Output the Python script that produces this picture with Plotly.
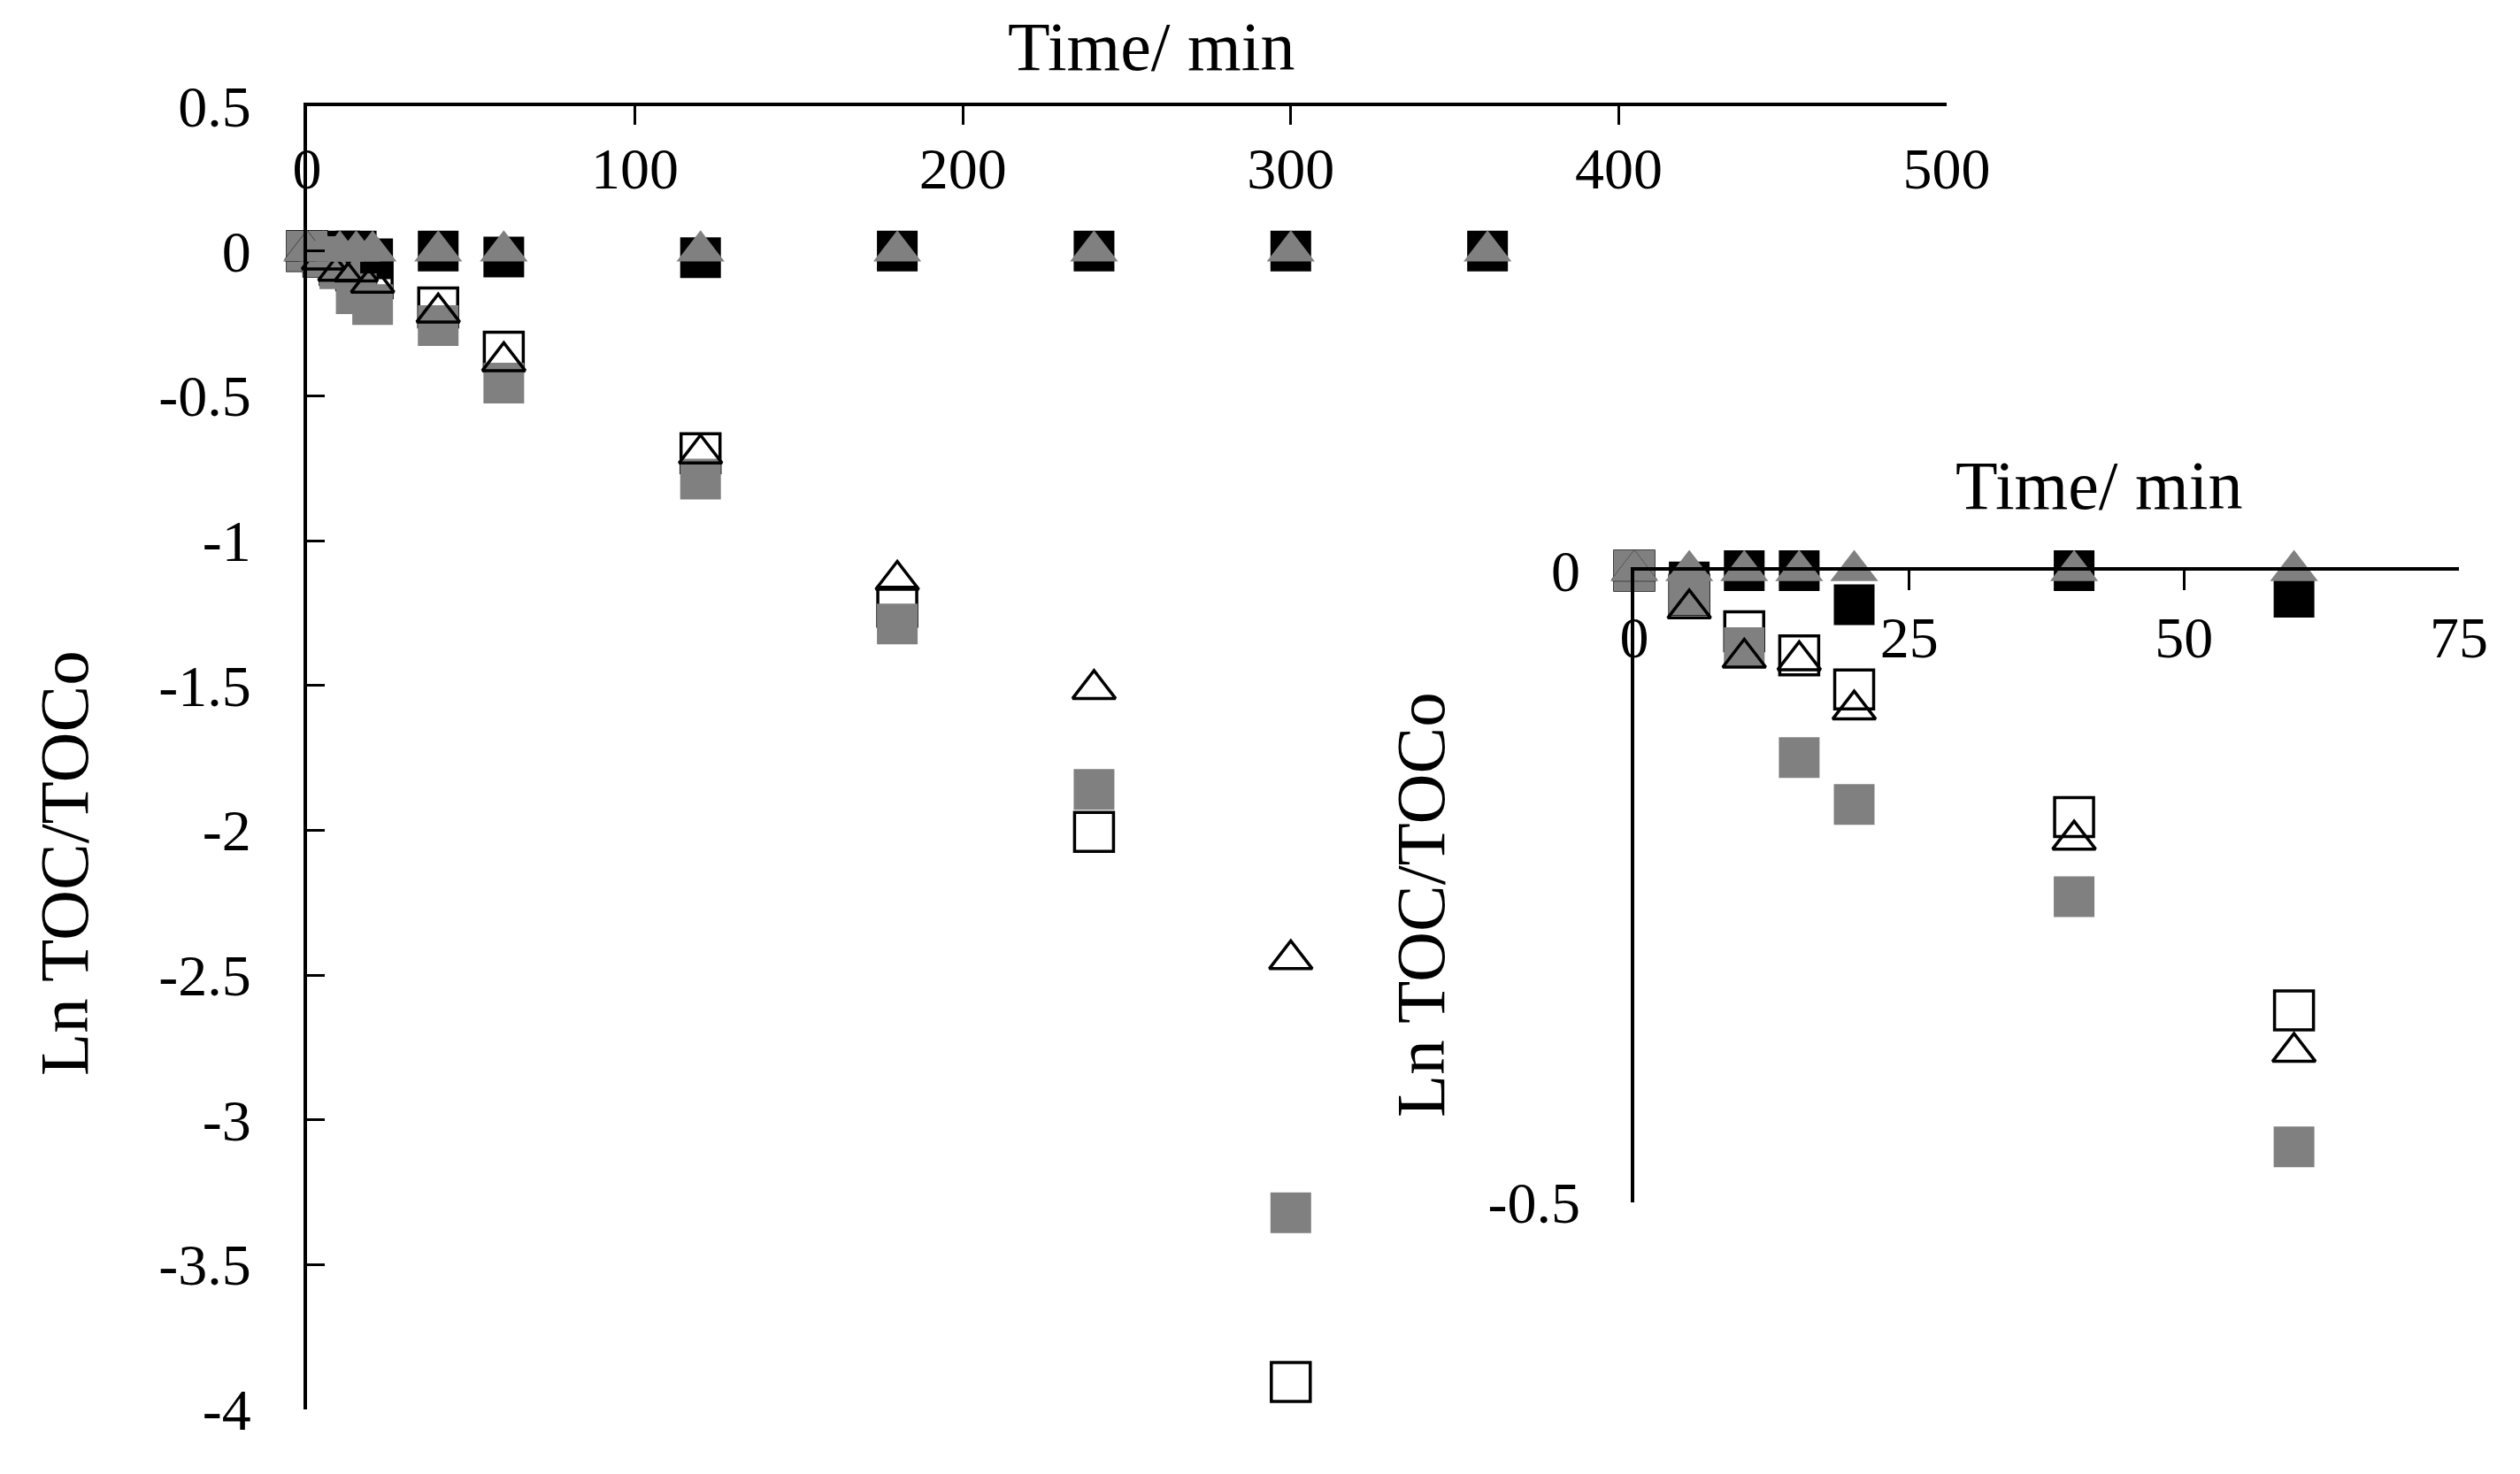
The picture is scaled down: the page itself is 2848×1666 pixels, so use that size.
import plotly.graph_objects as go

# ---- data ----
time_min = [0, 5, 10, 15, 20, 40, 60, 120, 180, 240, 300, 360]
black_square = [0, -0.009, 0, 0, -0.027, 0, -0.021, -0.023, 0, 0, 0, 0]
gray_triangle = [0, 0, 0, 0, 0, 0, 0, 0, 0, 0, 0, 0]
gray_square = [0, -0.019, -0.061, -0.148, -0.185, -0.258, -0.456, -0.788, -1.288, -1.859, -3.321]
open_square = [0, -0.019, -0.048, -0.067, -0.094, -0.195, -0.348, -0.698, -1.228, -2.006, -3.905]
open_triangle = [0, -0.030, -0.069, -0.071, -0.110, -0.213, -0.381, -0.700, -1.136, -1.513, -2.446]

main_xticks = [0, 100, 200, 300, 400, 500]
main_yticks = [0.5, 0, -0.5, -1, -1.5, -2, -2.5, -3, -3.5, -4]
main_yticklabels = ["0.5", "0", "-0.5", "-1", "-1.5", "-2", "-2.5", "-3", "-3.5", "-4"]
inset_xticks = [0, 25, 50, 75]
inset_yticks = [0, -0.5]
inset_yticklabels = ["0", "-0.5"]
inset_max_time = 60

W, H = 2848, 1666
OFF = 8  # page body margin
FONT = "Liberation Serif"
GRAY = "#808080"

styles = [
    (black_square, dict(symbol="square", size=46, color="black", line=dict(width=0))),
    (open_square, dict(symbol="square-open", size=44, color="black", line=dict(width=3.5, color="black"))),
    (gray_square, dict(symbol="square", size=46, color=GRAY, line=dict(width=0))),
    (open_triangle, dict(symbol="triangle-up-open", size=42, color="black", line=dict(width=3.5, color="black"))),
    (gray_triangle, dict(symbol="triangle-up", size=47, color=GRAY, line=dict(width=0))),
]

fig = go.Figure()
for vals, mk in styles:
    t = time_min[:len(vals)]
    fig.add_trace(go.Scatter(x=t, y=vals, mode="markers", marker=mk,
                             cliponaxis=False, showlegend=False, xaxis="x", yaxis="y"))
for vals, mk in styles:
    pairs = [(a, b) for a, b in zip(time_min, vals) if a <= inset_max_time]
    fig.add_trace(go.Scatter(x=[p[0] for p in pairs], y=[p[1] for p in pairs], mode="markers",
                             marker=mk, cliponaxis=False, showlegend=False, xaxis="x2", yaxis="y2"))

def px_x(p):
    return (p - OFF) / W

def px_y(p):
    return 1 - (p - OFF) / H

tickfont = dict(family=FONT, size=66, color="black")

fig.update_layout(
    width=W, height=H,
    margin=dict(l=0, r=0, t=0, b=0, autoexpand=False),
    paper_bgcolor="white", plot_bgcolor="rgba(0,0,0,0)",
    font=dict(family=FONT, color="black"),
    xaxis=dict(domain=[px_x(347), px_x(2200)], range=[0, 500], side="top", anchor="y",
               automargin=False,
               tickvals=main_xticks, ticks="inside", ticklen=21, tickwidth=3, tickcolor="black",
               ticklabelposition="inside", ticklabeloverflow="allow", ticklabelstandoff=36,
               showline=True, linewidth=4, linecolor="black", showgrid=False, zeroline=False,
               tickfont=tickfont),
    yaxis=dict(domain=[px_y(1593), px_y(120)], range=[-4, 0.5], anchor="x", side="left",
               automargin=False,
               tickvals=main_yticks, ticktext=main_yticklabels,
               ticks="inside", ticklen=20, tickwidth=3, tickcolor="black",
               ticklabelstandoff=46,
               showline=True, linewidth=4, linecolor="black", showgrid=False, zeroline=False,
               tickfont=tickfont),
    xaxis2=dict(domain=[px_x(1847), px_x(2779)], range=[0, 75], side="top", anchor="y2",
                automargin=False,
                tickvals=inset_xticks, ticks="inside", ticklen=22, tickwidth=3, tickcolor="black",
                ticklabelposition="inside", ticklabeloverflow="allow", ticklabelstandoff=40,
                showline=True, linewidth=3.5, linecolor="black", showgrid=False, zeroline=False,
                tickfont=tickfont),
    yaxis2=dict(domain=[px_y(1359), px_y(645)], range=[-0.5, 0], anchor="x2", side="left",
                automargin=False,
                tickvals=inset_yticks, ticktext=inset_yticklabels,
                ticks="inside", ticklen=22, tickwidth=3, tickcolor="black",
                ticklabelstandoff=44,
                showline=True, linewidth=3.5, linecolor="black", showgrid=False, zeroline=False,
                tickfont=tickfont),
    annotations=[
        dict(text="Time/ min", x=px_x(1301), y=1, xref="paper", yref="paper",
             showarrow=False, font=dict(family=FONT, size=78, color="black"),
             xanchor="center", yanchor="top", borderpad=0),
        dict(text="Ln TOC/TOCo", x=px_x(72), y=px_y(976), xref="paper", yref="paper",
             showarrow=False, textangle=-90, font=dict(family=FONT, size=79, color="black"),
             xanchor="center", yanchor="middle"),
        dict(text="Time/ min", x=px_x(2372), y=px_y(548), xref="paper", yref="paper",
             showarrow=False, font=dict(family=FONT, size=78, color="black"),
             xanchor="center", yanchor="middle"),
        dict(text="Ln TOC/TOCo", x=px_x(1606), y=px_y(1023), xref="paper", yref="paper",
             showarrow=False, textangle=-90, font=dict(family=FONT, size=79, color="black"),
             xanchor="center", yanchor="middle"),
    ],
)

fig.write_html("out.html")
